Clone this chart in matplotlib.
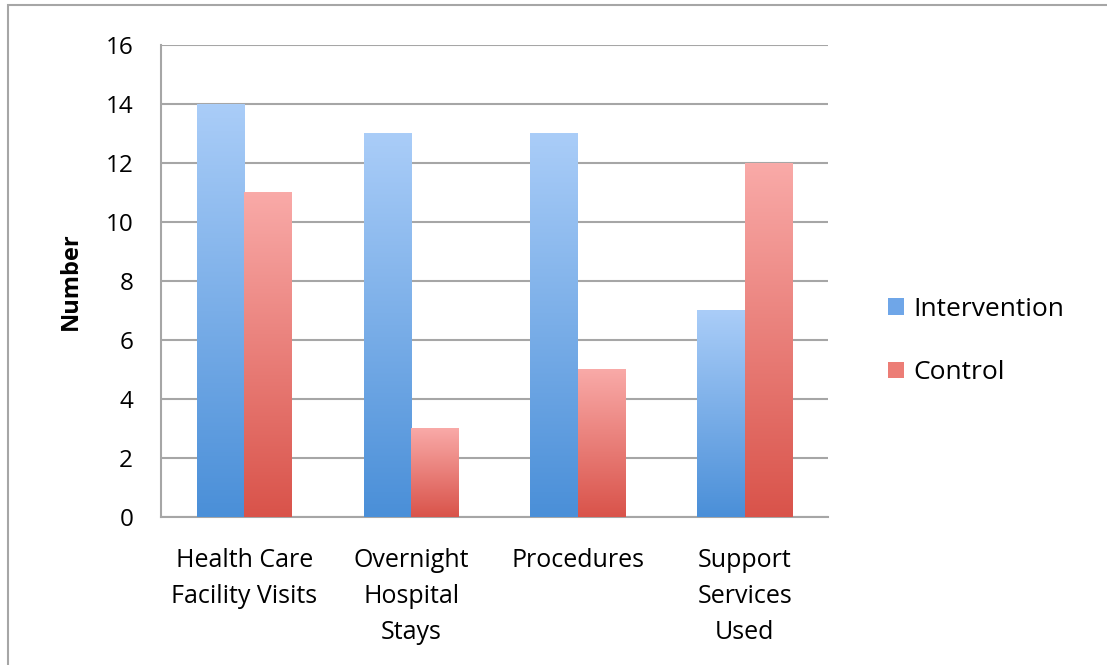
import numpy as np
import matplotlib.pyplot as plt
from matplotlib.colors import LinearSegmentedColormap
from matplotlib.patches import Rectangle

categories = ['Health Care\nFacility Visits', 'Overnight\nHospital\nStays',
              'Procedures', 'Support\nServices\nUsed']
intervention = [14, 13, 13, 7]
control = [11, 3, 5, 12]
series_names = ['Intervention', 'Control']
yticks = [0, 2, 4, 6, 8, 10, 12, 14, 16]

plt.rcParams['font.family'] = ['Open Sans', 'DejaVu Sans']

blue_cmap = LinearSegmentedColormap.from_list('blue', ['#4a8fd8', '#aacdf8'])
red_cmap = LinearSegmentedColormap.from_list('red', ['#d9534a', '#f9aaa8'])

fig = plt.figure(figsize=(11.07, 6.65), dpi=100)
ax = fig.add_axes([0.1454, 0.2226, 0.6026, 0.7097])

# outer chart frame (left/top visible)
fig.patches.append(Rectangle((8 / 1107, -0.1), 1.2, 1 - 5 / 665 + 0.1,
                             transform=fig.transFigure, fill=False,
                             edgecolor='#a6a6a6', linewidth=1.5))

x = np.arange(len(categories))
w = 0.285
grad = np.linspace(0, 1, 256).reshape(-1, 1)


def gradient_bar(xc, h, cmap):
    ax.imshow(grad, cmap=cmap, origin='lower', aspect='auto',
              extent=(xc - w / 2, xc + w / 2, 0, h), zorder=3,
              interpolation='bilinear')


for i in range(len(categories)):
    gradient_bar(x[i] - w / 2, intervention[i], blue_cmap)
    gradient_bar(x[i] + w / 2, control[i], red_cmap)

ax.set_xlim(-0.5, len(categories) - 0.5)
ax.set_ylim(0, 16)
ax.set_yticks(yticks)
ax.set_yticklabels([str(t) for t in yticks], fontsize=17.5)
ax.set_xticks(x)
ax.set_xticklabels(categories, fontsize=18, linespacing=1.58, va='top')
ax.tick_params(axis='y', length=0, pad=20)
ax.tick_params(axis='x', length=0, pad=22)
ax.yaxis.grid(True, color='#a6a6a6', linewidth=1.5, zorder=0)
ax.set_axisbelow(True)
for side in ['right', 'top']:
    ax.spines[side].set_visible(False)
for side in ['left', 'bottom']:
    ax.spines[side].set_color('#a6a6a6')
    ax.spines[side].set_linewidth(1.5)
ax.set_ylabel('Number', fontsize=17, fontweight='bold', labelpad=16)

handles = [Rectangle((0, 0), 1, 1, facecolor='#6fa6e8'),
           Rectangle((0, 0), 1, 1, facecolor='#ec7d76')]
fig.legend(handles, series_names, loc='center left',
           bbox_to_anchor=(0.781, 0.487), frameon=False, fontsize=19,
           handlelength=0.6, handleheight=0.6, handletextpad=0.35,
           labelspacing=1.45)

plt.savefig('out.png', dpi=100)
